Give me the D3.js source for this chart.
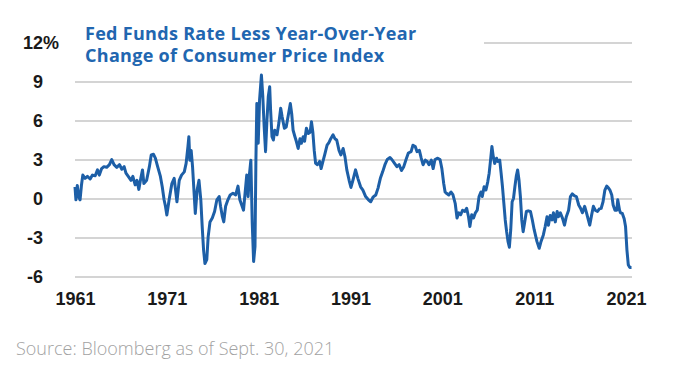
<!DOCTYPE html>
<html>
<head>
<meta charset="utf-8">
<script src="https://cdn.jsdelivr.net/npm/d3@7"></script>
<style>
  body { margin: 0; background: #fff; }
  svg text { font-family: "Liberation Sans", Arial, sans-serif; }
</style>
</head>
<body>
<svg id="chart"></svg>
<script>
// Fed funds rate minus YoY CPI change (decimal year, %)
const dates = [
  1961.0, 1961.1, 1961.25, 1961.4, 1961.55, 1961.7, 1961.85, 1962.1, 1962.35, 1962.65, 1962.9,
  1963.2, 1963.45, 1963.65, 1963.9, 1964.15, 1964.45, 1964.75, 1965.0, 1965.25, 1965.55, 1965.85,
  1966.1, 1966.35, 1966.55, 1966.8, 1967.1, 1967.3, 1967.55, 1967.75, 1967.95, 1968.15, 1968.35,
  1968.5, 1968.8, 1969.1, 1969.3, 1969.55, 1969.75, 1970.0, 1970.3, 1970.5, 1970.7, 1970.85,
  1971.0, 1971.25, 1971.55, 1971.8, 1972.1, 1972.35, 1972.6, 1972.9, 1973.1, 1973.3, 1973.4,
  1973.5, 1973.65, 1973.8, 1973.95, 1974.1, 1974.3, 1974.5, 1974.7, 1974.85, 1975.0, 1975.15,
  1975.35, 1975.5, 1975.7, 1975.95, 1976.2, 1976.45, 1976.7, 1976.85, 1977.05, 1977.2, 1977.4,
  1977.65, 1977.9, 1978.2, 1978.5, 1978.75, 1978.95, 1979.2, 1979.35, 1979.55, 1979.7, 1979.85,
  1980.0, 1980.15, 1980.3, 1980.45, 1980.6, 1980.7, 1980.8, 1980.95, 1981.1, 1981.3, 1981.45,
  1981.6, 1981.75, 1981.9, 1982.05, 1982.2, 1982.3, 1982.45, 1982.6, 1982.75, 1983.0, 1983.2,
  1983.4, 1983.55, 1983.8, 1984.0, 1984.2, 1984.45, 1984.6, 1984.75, 1984.95, 1985.1, 1985.3,
  1985.5, 1985.65, 1985.85, 1986.0, 1986.2, 1986.4, 1986.6, 1986.75, 1986.9, 1987.05, 1987.2,
  1987.4, 1987.65, 1987.8, 1988.0, 1988.2, 1988.45, 1988.65, 1988.85, 1989.1, 1989.3, 1989.5,
  1989.75, 1989.95, 1990.2, 1990.4, 1990.6, 1990.85, 1991.05, 1991.3, 1991.55, 1991.8, 1992.1,
  1992.35, 1992.65, 1992.95, 1993.2, 1993.45, 1993.75, 1994.0, 1994.25, 1994.5, 1994.75, 1995.0,
  1995.3, 1995.5, 1995.8, 1996.05, 1996.3, 1996.55, 1996.8, 1997.05, 1997.3, 1997.6, 1997.8,
  1998.05, 1998.25, 1998.5, 1998.7, 1998.9, 1999.15, 1999.35, 1999.55, 1999.8, 2000.0, 2000.2,
  2000.5, 2000.75, 2000.95, 2001.15, 2001.3, 2001.45, 2001.7, 2001.95, 2002.15, 2002.4, 2002.6,
  2002.8, 2003.0, 2003.2, 2003.45, 2003.65, 2003.85, 2004.0, 2004.2, 2004.4, 2004.6, 2004.8,
  2005.0, 2005.2, 2005.35, 2005.55, 2005.75, 2005.95, 2006.1, 2006.25, 2006.4, 2006.55, 2006.7,
  2006.9, 2007.05, 2007.25, 2007.4, 2007.55, 2007.7, 2007.85, 2008.0, 2008.15, 2008.3, 2008.45,
  2008.6, 2008.75, 2008.9, 2009.05, 2009.2, 2009.35, 2009.5, 2009.65, 2009.8, 2009.95, 2010.15,
  2010.35, 2010.6, 2010.8, 2011.0, 2011.3, 2011.55, 2011.75, 2012.0, 2012.2, 2012.4, 2012.55,
  2012.75, 2012.95, 2013.1, 2013.3, 2013.5, 2013.65, 2013.85, 2014.1, 2014.3, 2014.5, 2014.75,
  2014.95, 2015.15, 2015.4, 2015.6, 2015.85, 2016.05, 2016.25, 2016.5, 2016.7, 2016.9, 2017.05,
  2017.25, 2017.45, 2017.65, 2017.9, 2018.1, 2018.3, 2018.5, 2018.7, 2018.9, 2019.1, 2019.25,
  2019.45, 2019.6, 2019.8, 2020.0, 2020.1, 2020.3, 2020.4, 2020.6, 2020.8, 2020.95, 2021.1,
  2021.25, 2021.4, 2021.6
];
const realRate = [
  0.9, -0.1, 1.0, 0.15, -0.1, 1.0, 1.8, 1.55, 1.7, 1.5, 1.8,
  1.75, 2.2, 1.8, 2.3, 2.45, 2.4, 2.6, 3.0, 2.6, 2.4, 2.6,
  2.25, 2.45, 1.95, 1.7, 1.4, 1.7, 1.05, 1.4, 0.7, 1.5, 2.2,
  1.15, 1.4, 2.45, 3.35, 3.4, 3.1, 2.45, 1.7, 0.9, -0.1, -0.6,
  -1.27, -0.1, 1.15, 1.55, -0.25, 1.4, 1.8, 2.05, 2.7, 4.0, 4.75,
  2.95, 3.7, 2.45, 0.65, -1.15, 0.65, 1.4, -0.1, -2.15, -3.95, -5.0,
  -4.7, -2.95, -1.8, -1.5, -1.0, -0.1, 0.15, -0.6, -1.4, -1.8, -0.6,
  -0.1, 0.27, 0.4, 0.27, 0.95, -0.1, -0.6, -0.9, 0.65, 1.8, 0.15,
  1.9, 2.95, -1.9, -4.85, -3.7, 2.95, 7.3, 4.25, 7.6, 9.5, 7.85,
  5.5, 3.6, 6.0, 7.85, 8.6, 6.8, 4.75, 4.5, 5.25, 4.9, 5.8,
  6.95, 6.3, 5.4, 5.5, 6.3, 7.3, 6.5, 5.25, 4.75, 4.4, 3.85,
  4.6, 4.25, 4.75, 4.4, 5.4, 5.0, 5.1, 5.9, 5.1, 3.7, 2.7,
  2.6, 2.85, 2.3, 2.85, 3.4, 4.1, 4.3, 4.6, 4.9, 4.6, 4.5,
  3.7, 3.35, 3.85, 3.2, 2.2, 1.4, 0.85, 1.5, 2.2, 1.55, 0.9,
  0.65, 0.15, -0.1, -0.25, 0.1, 0.27, 0.8, 1.55, 2.05, 2.6, 3.0,
  3.15, 3.0, 2.7, 2.45, 2.6, 2.15, 2.45, 3.0, 3.5, 3.6, 4.1,
  4.0, 3.6, 3.7, 3.1, 2.6, 2.95, 2.85, 2.6, 2.95, 2.3, 3.0,
  3.1, 3.0, 2.3, 1.15, 0.5, 0.4, 0.27, 0.5, 0.3, -0.37, -1.5,
  -1.1, -1.25, -0.9, -1.0, -0.75, -1.4, -2.15, -1.25, -1.5, -1.1, -0.9,
  0.15, 0.5, 0.15, 0.9, 0.65, 1.3, 1.95, 2.95, 4.0, 3.2, 2.7,
  3.1, 2.85, 2.95, 1.95, 0.9, -0.37, -1.65, -2.55, -3.3, -3.75, -2.4,
  -0.25, 0.0, 0.9, 1.7, 2.2, 1.4, 0.15, -1.65, -2.55, -1.9, -1.0,
  -0.95, -1.0, -1.65, -2.4, -3.3, -3.83, -3.3, -2.8, -2.15, -1.4, -2.05,
  -1.3, -1.65, -1.1, -1.8, -1.0, -1.4, -1.1, -1.55, -2.05, -1.4, -0.9,
  0.15, 0.35, 0.2, 0.15, -0.5, -0.75, -1.1, -0.6, -1.1, -1.65, -2.05,
  -1.3, -0.6, -0.9, -1.0, -0.8, -0.75, -0.25, 0.65, 0.95, 0.8, 0.65,
  0.27, -0.5, -0.9, -0.9, -0.1, -0.9, -1.1, -1.15, -1.55, -2.15, -3.95,
  -5.1, -5.3, -5.3
];

const yTicks = [-6, -3, 0, 3, 6, 9, 12];
const xTicks = [1961, 1971, 1981, 1991, 2001, 2011, 2021];
const titleLines = ["Fed Funds Rate Less Year-Over-Year", "Change of Consumer Price Index"];
const sourceNote = "Source: Bloomberg as of Sept. 30, 2021";

const width = 699, height = 386;
const plot = { left: 75, right: 632, top: 42.5, bottom: 276.5 };

const svg = d3.select("#chart")
    .attr("width", width)
    .attr("height", height);

const x = d3.scaleLinear().domain([1961, 2021]).range([plot.left, 626]);
const y = d3.scaleLinear().domain([-6, 12]).range([plot.bottom, plot.top]);

// y axis: gridlines + labels
const yAxis = svg.append("g")
    .attr("transform", `translate(${plot.left},0)`)
    .call(d3.axisLeft(y)
        .tickValues(yTicks)
        .tickSize(-(plot.right - plot.left))
        .tickPadding(32)
        .tickFormat(d => d));

yAxis.select(".domain").remove();
yAxis.selectAll(".tick line")
    .attr("stroke", "#c6c6c6")
    .attr("stroke-width", 1.5);
yAxis.selectAll(".tick text")
    .attr("font-family", "Liberation Sans, Arial, sans-serif")
    .attr("font-size", 18)
    .attr("font-weight", "bold")
    .attr("fill", "#1a1a1a");

// percent sign hangs after the top label
yAxis.selectAll(".tick")
    .filter(d => d === 12)
    .append("text")
    .attr("x", -32)
    .attr("dy", "0.32em")
    .attr("text-anchor", "start")
    .attr("font-size", 18)
    .attr("font-weight", "bold")
    .attr("fill", "#1a1a1a")
    .text("%");

// x axis labels
const xAxis = svg.append("g")
    .attr("transform", `translate(0,${plot.bottom})`)
    .call(d3.axisBottom(x)
        .tickValues(xTicks)
        .tickSize(0)
        .tickPadding(16)
        .tickFormat(d3.format("d")));

xAxis.select(".domain").remove();
xAxis.selectAll(".tick text")
    .attr("font-family", "Liberation Sans, Arial, sans-serif")
    .attr("font-size", 18)
    .attr("font-weight", "bold")
    .attr("fill", "#1a1a1a");

// the line
const points = dates.map((d, i) => ({ date: d, value: realRate[i] }));

const line = d3.line()
    .x(d => x(d.date))
    .y(d => y(d.value));

svg.append("path")
    .datum(points)
    .attr("fill", "none")
    .attr("stroke", "#1d5fa7")
    .attr("stroke-width", 3)
    .attr("stroke-linejoin", "round")
    .attr("d", line);

// title sits on a white box that hides the left part of the top gridline
svg.append("rect")
    .attr("x", 70)
    .attr("y", 22)
    .attr("width", 414)
    .attr("height", 46)
    .attr("fill", "#fff");

svg.append("text")
    .attr("x", 85)
    .attr("y", 40)
    .attr("fill", "#2166b0")
    .attr("font-size", 18)
    .attr("font-weight", "bold")
    .attr("letter-spacing", 0.3)
    .style("font-family", "'Open Sans', sans-serif")
    .selectAll("tspan")
    .data(titleLines)
    .join("tspan")
    .attr("x", 85)
    .attr("dy", (d, i) => i ? 21.5 : 0)
    .text(d => d);

// source note
svg.append("text")
    .attr("x", 16)
    .attr("y", 355)
    .attr("fill", "#a2a2a2")
    .attr("font-size", 18)
    .style("font-family", "'Open Sans', sans-serif")
    .style("font-weight", 300)
    .text(sourceNote);
</script>
</body>
</html>
